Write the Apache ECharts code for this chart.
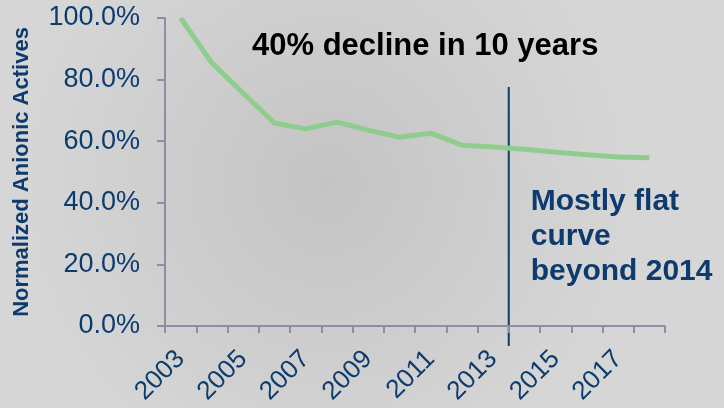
<!DOCTYPE html>
<html>
<head>
<meta charset="utf-8">
<script src="https://cdn.jsdelivr.net/npm/echarts@6/dist/echarts.min.js"></script>
<style>
  html, body { margin: 0; padding: 0; }
  #chart { width: 724px; height: 408px; }
</style>
</head>
<body>
<div id="chart"></div>
<script>
// Years on the x axis
const years = ['2003', '2004', '2005', '2006', '2007', '2008', '2009', '2010',
  '2011', '2012', '2013', '2014', '2015', '2016', '2017', '2018'];
// Normalized anionic actives (%)
const actives = [100, 85.4, 75.6, 65.9, 64.0, 66.2, 63.6, 61.3,
  62.6, 58.7, 58.1, 57.4, 56.4, 55.6, 54.9, 54.6];
const yTicks = [0, 20, 40, 60, 80, 100];

const blue = '#0d3b6e';
const axisGray = '#8b8fa2';

const chart = echarts.init(document.getElementById('chart'));

chart.setOption({
  backgroundColor: {
    type: 'radial', x: 0.45, y: 0.45, r: 0.75,
    colorStops: [
      { offset: 0, color: '#c4c4c4' },
      { offset: 1, color: '#d6d6d6' }
    ]
  },
  animation: false,
  textStyle: { fontFamily: 'Liberation Sans, Arial, sans-serif' },
  title: {
    text: '40% decline in 10 years',
    left: 247,
    top: 26,
    textStyle: { fontSize: 31, fontWeight: 'bold', color: '#000' }
  },
  grid: { left: 165, right: 59, top: 18, bottom: 82, containLabel: false, outerBoundsMode: 'none' },
  xAxis: {
    type: 'category',
    data: years,
    boundaryGap: true,
    axisLine: { lineStyle: { color: axisGray, width: 2 } },
    axisTick: { show: true, interval: 0, length: 7, lineStyle: { color: axisGray, width: 2 } },
    axisLabel: {
      interval: 1,
      rotate: 45,
      color: blue,
      fontSize: 26,
      margin: 29
    }
  },
  yAxis: {
    type: 'value',
    min: yTicks[0],
    max: yTicks[yTicks.length - 1],
    interval: 20,
    name: 'Normalized Anionic Actives',
    nameLocation: 'middle',
    nameGap: 132,
    nameTextStyle: { fontSize: 22, fontWeight: 'bold', color: blue },
    splitLine: { show: false },
    axisLine: { show: true, lineStyle: { color: axisGray, width: 2 } },
    axisTick: { show: true, length: 8, lineStyle: { color: axisGray, width: 2 } },
    axisLabel: {
      color: blue,
      fontSize: 27,
      margin: 25,
      formatter: v => v.toFixed(1) + '%'
    }
  },
  series: [{
    type: 'line',
    data: actives,
    symbol: 'none',
    lineStyle: { color: '#8fcd8f', width: 5 }
  }]
});

// divider on the boundary between 2013 and 2014, placed through the chart's own scales
const c2013 = chart.convertToPixel({ gridIndex: 0 }, ['2013', 77.6]);
const c2014 = chart.convertToPixel({ gridIndex: 0 }, ['2014', -6.5]);
const noteTop = chart.convertToPixel({ gridIndex: 0 }, ['2014', 46]);
const divX = (c2013[0] + c2014[0]) / 2;
chart.setOption({
  graphic: [
    {
      type: 'line',
      shape: { x1: divX, y1: c2013[1], x2: divX, y2: c2014[1] },
      style: { stroke: blue, lineWidth: 2 }
    },
    {
      type: 'text',
      x: divX + 22,
      y: noteTop[1],
      style: {
        text: 'Mostly flat\ncurve\nbeyond 2014',
        font: 'bold 30px Liberation Sans, Arial, sans-serif',
        lineHeight: 35,
        fill: blue
      }
    }
  ]
});

window.addEventListener('resize', () => chart.resize());
</script>
</body>
</html>
